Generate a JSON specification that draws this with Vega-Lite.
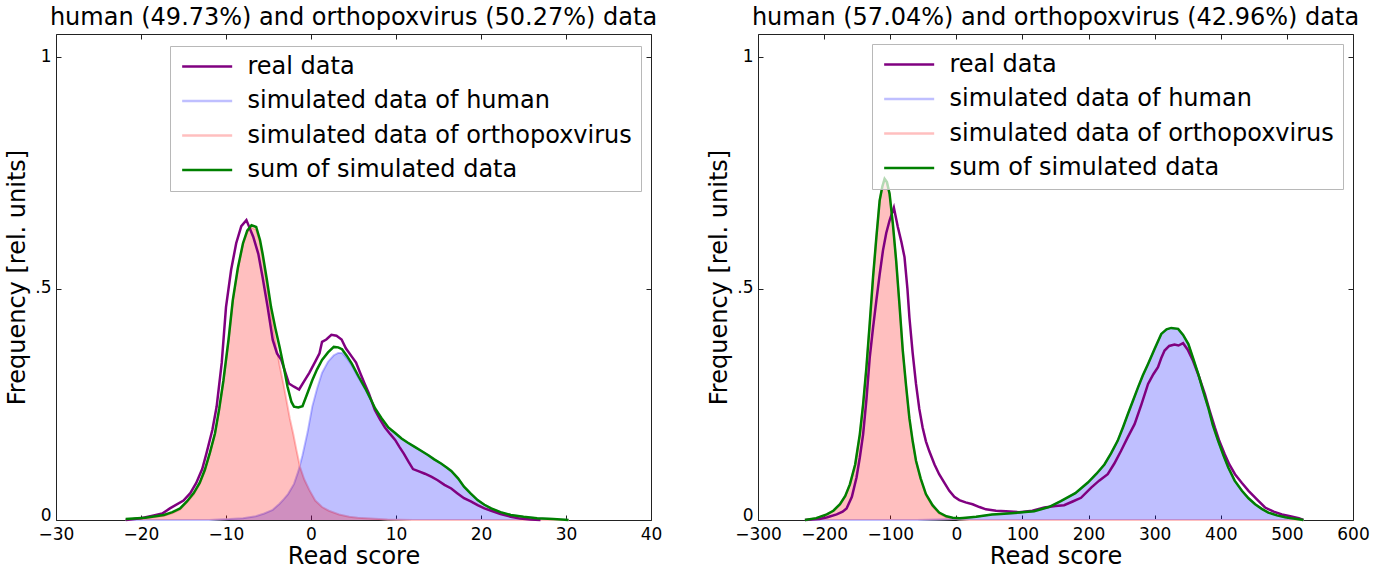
{
"$schema": "https://vega.github.io/schema/vega-lite/v6.json",
"background": "white",
"padding": {"left": 5, "top": 5, "right": 5, "bottom": 0},
"spacing": 44,
"config": {
  "font": "DejaVu Sans",
  "view": {"stroke": "#222222", "strokeWidth": 1},
  "axis": {"labelFont": "DejaVu Sans", "titleFont": "DejaVu Sans", "labelFontSize": 17, "titleFontSize": 24, "titleFontWeight": "normal", "labelColor": "#000000", "titleColor": "#000000", "grid": false, "domain": false, "tickColor": "#222222", "tickSize": -5, "tickWidth": 1, "labelOverlap": false, "labelFlush": false},
  "title": {"font": "DejaVu Sans", "fontSize": 24, "fontWeight": "normal", "color": "#000000", "offset": 0, "baseline": "alphabetic", "frame": "group"},
  "legend": {"orient": "none", "title": null, "labelFont": "DejaVu Sans", "labelFontSize": 24, "labelColor": "#000000", "symbolType": "M-1,0H5", "symbolSize": 278, "symbolStrokeWidth": 2.5, "labelOffset": 45, "padding": 8.5, "rowPadding": 10.5, "strokeColor": "#b8b8b8", "fillColor": "rgba(255,255,255,0.7)", "cornerRadius": 0, "labelLimit": 600}
},
"resolve": {"scale": {"color": "independent"}, "legend": {"color": "independent"}},
"hconcat": [
{
  "title": "human (49.73%) and orthopoxvirus (50.27%) data",
  "width": 595, "height": 486,
  "data": {"values": [
    {"s":"r","x":-21.8,"y":0},{"s":"r","x":-20,"y":0.004},{"s":"r","x":-18.5,"y":0.01},{"s":"r","x":-17.5,"y":0.014},{"s":"r","x":-16.6,"y":0.025},{"s":"r","x":-15,"y":0.042},{"s":"r","x":-14.2,"y":0.058},{"s":"r","x":-13.5,"y":0.08},{"s":"r","x":-12.8,"y":0.11},{"s":"r","x":-12.3,"y":0.144},{"s":"r","x":-11.6,"y":0.195},{"s":"r","x":-11.1,"y":0.245},{"s":"r","x":-10.5,"y":0.34},{"s":"r","x":-10,"y":0.46},{"s":"r","x":-9.4,"y":0.54},{"s":"r","x":-8.8,"y":0.598},{"s":"r","x":-8.2,"y":0.635},{"s":"r","x":-7.6,"y":0.648},{"s":"r","x":-7.2,"y":0.63},{"s":"r","x":-6.8,"y":0.612},{"s":"r","x":-6.2,"y":0.575},{"s":"r","x":-5.7,"y":0.525},{"s":"r","x":-5.1,"y":0.46},{"s":"r","x":-4.5,"y":0.389},{"s":"r","x":-4,"y":0.36},{"s":"r","x":-3.5,"y":0.346},{"s":"r","x":-3,"y":0.318},{"s":"r","x":-2.6,"y":0.295},{"s":"r","x":-2,"y":0.288},{"s":"r","x":-1.4,"y":0.282},{"s":"r","x":-0.8,"y":0.3},{"s":"r","x":-0.2,"y":0.318},{"s":"r","x":0.5,"y":0.342},{"s":"r","x":1,"y":0.36},{"s":"r","x":1.3,"y":0.385},{"s":"r","x":1.8,"y":0.39},{"s":"r","x":2.4,"y":0.4},{"s":"r","x":3,"y":0.398},{"s":"r","x":3.6,"y":0.39},{"s":"r","x":4.1,"y":0.371},{"s":"r","x":4.8,"y":0.353},{"s":"r","x":5.3,"y":0.34},{"s":"r","x":5.8,"y":0.317},{"s":"r","x":6.3,"y":0.295},{"s":"r","x":6.8,"y":0.274},{"s":"r","x":7.5,"y":0.238},{"s":"r","x":8.1,"y":0.218},{"s":"r","x":8.7,"y":0.2},{"s":"r","x":9.3,"y":0.186},{"s":"r","x":9.9,"y":0.173},{"s":"r","x":10.4,"y":0.158},{"s":"r","x":10.9,"y":0.144},{"s":"r","x":11.5,"y":0.125},{"s":"r","x":12,"y":0.11},{"s":"r","x":12.7,"y":0.105},{"s":"r","x":13.4,"y":0.1},{"s":"r","x":14.2,"y":0.093},{"s":"r","x":14.9,"y":0.086},{"s":"r","x":15.7,"y":0.076},{"s":"r","x":16.5,"y":0.068},{"s":"r","x":17.2,"y":0.058},{"s":"r","x":18,"y":0.047},{"s":"r","x":18.8,"y":0.04},{"s":"r","x":19.6,"y":0.032},{"s":"r","x":20.4,"y":0.025},{"s":"r","x":21.2,"y":0.02},{"s":"r","x":22.3,"y":0.013},{"s":"r","x":23.5,"y":0.007},{"s":"r","x":24.6,"y":0.003},{"s":"r","x":25.8,"y":0.001},{"s":"r","x":27,"y":0},
    {"s":"t","x":-21.8,"y":0.002},{"s":"t","x":-19.5,"y":0.005},{"s":"t","x":-17.3,"y":0.011},{"s":"t","x":-16.3,"y":0.017},{"s":"t","x":-15.4,"y":0.025},{"s":"t","x":-14.6,"y":0.04},{"s":"t","x":-13.8,"y":0.058},{"s":"t","x":-13.1,"y":0.08},{"s":"t","x":-12.5,"y":0.108},{"s":"t","x":-11.9,"y":0.145},{"s":"t","x":-11.3,"y":0.187},{"s":"t","x":-10.8,"y":0.24},{"s":"t","x":-10.3,"y":0.302},{"s":"t","x":-9.7,"y":0.39},{"s":"t","x":-9.2,"y":0.475},{"s":"t","x":-8.6,"y":0.545},{"s":"t","x":-8,"y":0.598},{"s":"t","x":-7.5,"y":0.625},{"s":"t","x":-7,"y":0.637},{"s":"t","x":-6.45,"y":0.633},{"s":"t","x":-6,"y":0.605},{"s":"t","x":-5.7,"y":0.576},{"s":"t","x":-5.2,"y":0.52},{"s":"t","x":-4.7,"y":0.46},{"s":"t","x":-4.2,"y":0.415},{"s":"t","x":-3.7,"y":0.374},{"s":"t","x":-3.2,"y":0.33},{"s":"t","x":-2.76,"y":0.288},{"s":"t","x":-2.3,"y":0.255},{"s":"t","x":-2,"y":0.245},{"s":"t","x":-1.5,"y":0.243},{"s":"t","x":-1,"y":0.246},{"s":"t","x":-0.4,"y":0.275},{"s":"t","x":0.15,"y":0.302},{"s":"t","x":0.7,"y":0.325},{"s":"t","x":1.3,"y":0.346},{"s":"t","x":2,"y":0.362},{"s":"t","x":2.68,"y":0.374},{"s":"t","x":3.2,"y":0.373},{"s":"t","x":3.65,"y":0.369},{"s":"t","x":4.2,"y":0.355},{"s":"t","x":4.8,"y":0.338},{"s":"t","x":5.6,"y":0.31},{"s":"t","x":6.4,"y":0.284},{"s":"t","x":7,"y":0.262},{"s":"t","x":7.55,"y":0.241},{"s":"t","x":8.3,"y":0.22},{"s":"t","x":9.1,"y":0.2},{"s":"t","x":9.9,"y":0.188},{"s":"t","x":10.65,"y":0.176},{"s":"t","x":11.4,"y":0.167},{"s":"t","x":12.2,"y":0.158},{"s":"t","x":13,"y":0.149},{"s":"t","x":13.8,"y":0.14},{"s":"t","x":14.5,"y":0.131},{"s":"t","x":15.3,"y":0.122},{"s":"t","x":16,"y":0.113},{"s":"t","x":16.5,"y":0.106},{"s":"t","x":17.3,"y":0.09},{"s":"t","x":18,"y":0.072},{"s":"t","x":18.8,"y":0.057},{"s":"t","x":19.6,"y":0.043},{"s":"t","x":20.4,"y":0.033},{"s":"t","x":21.2,"y":0.025},{"s":"t","x":22.3,"y":0.017},{"s":"t","x":23.5,"y":0.011},{"s":"t","x":25,"y":0.007},{"s":"t","x":26.6,"y":0.004},{"s":"t","x":28.5,"y":0.002},{"s":"t","x":30.3,"y":0},
    {"s":"h","x":-21.8,"y":0},{"s":"h","x":-12,"y":0},{"s":"h","x":-9.6,"y":0.002},{"s":"h","x":-8,"y":0.004},{"s":"h","x":-6.5,"y":0.008},{"s":"h","x":-5.5,"y":0.014},{"s":"h","x":-4.5,"y":0.022},{"s":"h","x":-3.7,"y":0.035},{"s":"h","x":-3.2,"y":0.045},{"s":"h","x":-2.7,"y":0.056},{"s":"h","x":-2,"y":0.078},{"s":"h","x":-1.5,"y":0.105},{"s":"h","x":-1,"y":0.14},{"s":"h","x":-0.4,"y":0.19},{"s":"h","x":0.15,"y":0.245},{"s":"h","x":0.7,"y":0.283},{"s":"h","x":1.3,"y":0.318},{"s":"h","x":2,"y":0.342},{"s":"h","x":2.68,"y":0.356},{"s":"h","x":3.2,"y":0.361},{"s":"h","x":3.65,"y":0.361},{"s":"h","x":4.2,"y":0.35},{"s":"h","x":4.8,"y":0.334},{"s":"h","x":5.6,"y":0.307},{"s":"h","x":6.4,"y":0.282},{"s":"h","x":7,"y":0.26},{"s":"h","x":7.55,"y":0.239},{"s":"h","x":8.3,"y":0.219},{"s":"h","x":9.1,"y":0.199},{"s":"h","x":9.9,"y":0.187},{"s":"h","x":10.65,"y":0.176},{"s":"h","x":11.4,"y":0.167},{"s":"h","x":12.2,"y":0.158},{"s":"h","x":13,"y":0.149},{"s":"h","x":13.8,"y":0.14},{"s":"h","x":14.5,"y":0.131},{"s":"h","x":15.3,"y":0.122},{"s":"h","x":16,"y":0.113},{"s":"h","x":16.5,"y":0.106},{"s":"h","x":17.3,"y":0.09},{"s":"h","x":18,"y":0.072},{"s":"h","x":18.8,"y":0.057},{"s":"h","x":19.6,"y":0.043},{"s":"h","x":20.4,"y":0.033},{"s":"h","x":21.2,"y":0.025},{"s":"h","x":22.3,"y":0.017},{"s":"h","x":23.5,"y":0.011},{"s":"h","x":25,"y":0.007},{"s":"h","x":26.6,"y":0.004},{"s":"h","x":28.5,"y":0.002},{"s":"h","x":30.3,"y":0},
    {"s":"o","x":-21.8,"y":0.001},{"s":"o","x":-19.5,"y":0.004},{"s":"o","x":-17.3,"y":0.009},{"s":"o","x":-16.3,"y":0.015},{"s":"o","x":-15.4,"y":0.023},{"s":"o","x":-14.6,"y":0.038},{"s":"o","x":-13.8,"y":0.055},{"s":"o","x":-13.1,"y":0.078},{"s":"o","x":-12.5,"y":0.105},{"s":"o","x":-11.9,"y":0.143},{"s":"o","x":-11.3,"y":0.185},{"s":"o","x":-10.8,"y":0.238},{"s":"o","x":-10.3,"y":0.3},{"s":"o","x":-9.7,"y":0.388},{"s":"o","x":-9.2,"y":0.473},{"s":"o","x":-8.6,"y":0.543},{"s":"o","x":-8,"y":0.596},{"s":"o","x":-7.5,"y":0.622},{"s":"o","x":-7,"y":0.632},{"s":"o","x":-6.45,"y":0.627},{"s":"o","x":-6,"y":0.6},{"s":"o","x":-5.7,"y":0.57},{"s":"o","x":-5.2,"y":0.51},{"s":"o","x":-4.7,"y":0.445},{"s":"o","x":-4.2,"y":0.39},{"s":"o","x":-3.7,"y":0.335},{"s":"o","x":-3.2,"y":0.29},{"s":"o","x":-2.9,"y":0.26},{"s":"o","x":-2.5,"y":0.22},{"s":"o","x":-2.1,"y":0.187},{"s":"o","x":-1.7,"y":0.15},{"s":"o","x":-1.3,"y":0.115},{"s":"o","x":-0.8,"y":0.088},{"s":"o","x":-0.2,"y":0.065},{"s":"o","x":0.5,"y":0.042},{"s":"o","x":1.3,"y":0.028},{"s":"o","x":2.1,"y":0.02},{"s":"o","x":3.3,"y":0.012},{"s":"o","x":4.5,"y":0.007},{"s":"o","x":5.5,"y":0.005},{"s":"o","x":7,"y":0.003},{"s":"o","x":9,"y":0.001},{"s":"o","x":12,"y":0},{"s":"o","x":30.3,"y":0}
  ]},
  "resolve": {"axis": {"x": "independent", "y": "independent"}},
  "layer": [
    {"transform": [{"filter": "datum.s=='h' || datum.s=='o'"}],
     "mark": {"type": "line", "strokeWidth": 2},
     "encoding": {
       "x": {"field": "x", "type": "quantitative", "scale": {"domain": [-30, 40], "nice": false, "zero": false}, "axis": {"orient": "bottom", "values": [-30,-20,-10,0,10,20,30,40], "title": "Read score", "labelPadding": 11, "titlePadding": 2}},
       "y": {"field": "y", "type": "quantitative", "scale": {"domain": [0, 1.05], "nice": false}, "axis": {"orient": "left", "values": [0, 0.5, 1], "labelExpr": "datum.value==0.5?'.5':datum.value==1?'1':'0'", "title": "Frequency [rel. units]", "labelPadding": 10, "titlePadding": 5, "labelOffset": {"condition": {"test": "datum.value==0", "value": -5}, "value": -1}}},
       "color": {"field": "s", "type": "nominal", "scale": {"domain": ["r","h","o","t"], "range": ["#800080","#bfbfff","#ffbfbf","#008000"]}, "legend": {"legendX": 114, "legendY": 12, "labelExpr": "datum.label=='r'?'real data':datum.label=='h'?'simulated data of human':datum.label=='o'?'simulated data of orthopoxvirus':'sum of simulated data'"}}
     }},
    {"transform": [{"filter": "datum.s=='h'"}],
     "mark": {"type": "area", "color": "#0000ff", "opacity": 0.25},
     "encoding": {"x": {"field": "x", "type": "quantitative", "axis": null}, "y": {"field": "y", "type": "quantitative", "axis": null}}},
    {"transform": [{"filter": "datum.s=='o'"}],
     "mark": {"type": "area", "color": "#ff0000", "opacity": 0.25},
     "encoding": {"x": {"field": "x", "type": "quantitative", "axis": null}, "y": {"field": "y", "type": "quantitative", "axis": null}}},
    {"transform": [{"filter": "datum.s=='r' || datum.s=='t'"}],
     "mark": {"type": "line", "strokeWidth": 2.5},
     "encoding": {
       "x": {"field": "x", "type": "quantitative", "axis": {"orient": "top", "values": [-30,-20,-10,0,10,20,30,40], "labels": false, "title": null}},
       "y": {"field": "y", "type": "quantitative", "axis": {"orient": "right", "values": [0, 0.5, 1], "labels": false, "title": null}},
       "color": {"field": "s", "type": "nominal"}
     }}
  ]
},
{
  "title": "human (57.04%) and orthopoxvirus (42.96%) data",
  "width": 595, "height": 486,
  "data": {"values": [
    {"s":"r","x":-229,"y":0},{"s":"r","x":-207,"y":0.002},{"s":"r","x":-195,"y":0.006},{"s":"r","x":-181,"y":0.012},{"s":"r","x":-172,"y":0.018},{"s":"r","x":-166,"y":0.025},{"s":"r","x":-158,"y":0.05},{"s":"r","x":-151,"y":0.092},{"s":"r","x":-146,"y":0.135},{"s":"r","x":-141,"y":0.185},{"s":"r","x":-136,"y":0.26},{"s":"r","x":-131,"y":0.351},{"s":"r","x":-126,"y":0.415},{"s":"r","x":-121,"y":0.474},{"s":"r","x":-116,"y":0.53},{"s":"r","x":-111,"y":0.582},{"s":"r","x":-106,"y":0.62},{"s":"r","x":-101,"y":0.647},{"s":"r","x":-94.5,"y":0.675},{"s":"r","x":-88.5,"y":0.633},{"s":"r","x":-83,"y":0.6},{"s":"r","x":-78.4,"y":0.568},{"s":"r","x":-74,"y":0.5},{"s":"r","x":-71,"y":0.438},{"s":"r","x":-66,"y":0.36},{"s":"r","x":-61,"y":0.294},{"s":"r","x":-56,"y":0.24},{"s":"r","x":-51,"y":0.2},{"s":"r","x":-46,"y":0.17},{"s":"r","x":-41,"y":0.149},{"s":"r","x":-33,"y":0.12},{"s":"r","x":-26,"y":0.099},{"s":"r","x":-18,"y":0.08},{"s":"r","x":-10.6,"y":0.063},{"s":"r","x":-3,"y":0.05},{"s":"r","x":4.5,"y":0.043},{"s":"r","x":14,"y":0.038},{"s":"r","x":24.6,"y":0.034},{"s":"r","x":35,"y":0.028},{"s":"r","x":44.8,"y":0.023},{"s":"r","x":60,"y":0.02},{"s":"r","x":75,"y":0.019},{"s":"r","x":95,"y":0.017},{"s":"r","x":115,"y":0.02},{"s":"r","x":133,"y":0.027},{"s":"r","x":150,"y":0.03},{"s":"r","x":163,"y":0.032},{"s":"r","x":176,"y":0.04},{"s":"r","x":188.6,"y":0.048},{"s":"r","x":204,"y":0.07},{"s":"r","x":216,"y":0.085},{"s":"r","x":229,"y":0.099},{"s":"r","x":239,"y":0.122},{"s":"r","x":249,"y":0.149},{"s":"r","x":259,"y":0.178},{"s":"r","x":269.6,"y":0.207},{"s":"r","x":280,"y":0.25},{"s":"r","x":290,"y":0.294},{"s":"r","x":298,"y":0.315},{"s":"r","x":305,"y":0.33},{"s":"r","x":310,"y":0.35},{"s":"r","x":315,"y":0.366},{"s":"r","x":322,"y":0.376},{"s":"r","x":330,"y":0.379},{"s":"r","x":336,"y":0.377},{"s":"r","x":343,"y":0.382},{"s":"r","x":350,"y":0.368},{"s":"r","x":358,"y":0.344},{"s":"r","x":367,"y":0.31},{"s":"r","x":376,"y":0.272},{"s":"r","x":383,"y":0.237},{"s":"r","x":391,"y":0.2},{"s":"r","x":398,"y":0.17},{"s":"r","x":406,"y":0.142},{"s":"r","x":413,"y":0.12},{"s":"r","x":421.5,"y":0.099},{"s":"r","x":432,"y":0.08},{"s":"r","x":442,"y":0.063},{"s":"r","x":455,"y":0.044},{"s":"r","x":467,"y":0.027},{"s":"r","x":480,"y":0.018},{"s":"r","x":492.5,"y":0.012},{"s":"r","x":505,"y":0.008},{"s":"r","x":518,"y":0.004},{"s":"r","x":525,"y":0},
    {"s":"t","x":-229,"y":0},{"s":"t","x":-212,"y":0.004},{"s":"t","x":-196,"y":0.012},{"s":"t","x":-186,"y":0.02},{"s":"t","x":-176,"y":0.034},{"s":"t","x":-168,"y":0.052},{"s":"t","x":-161,"y":0.077},{"s":"t","x":-153,"y":0.12},{"s":"t","x":-146,"y":0.185},{"s":"t","x":-141,"y":0.25},{"s":"t","x":-136,"y":0.33},{"s":"t","x":-131,"y":0.425},{"s":"t","x":-126,"y":0.524},{"s":"t","x":-121,"y":0.61},{"s":"t","x":-116,"y":0.69},{"s":"t","x":-112,"y":0.72},{"s":"t","x":-108.5,"y":0.737},{"s":"t","x":-105,"y":0.73},{"s":"t","x":-101,"y":0.705},{"s":"t","x":-96,"y":0.64},{"s":"t","x":-91,"y":0.56},{"s":"t","x":-86,"y":0.465},{"s":"t","x":-81,"y":0.366},{"s":"t","x":-76,"y":0.29},{"s":"t","x":-71,"y":0.22},{"s":"t","x":-66,"y":0.17},{"s":"t","x":-61,"y":0.128},{"s":"t","x":-54,"y":0.09},{"s":"t","x":-46,"y":0.056},{"s":"t","x":-36,"y":0.032},{"s":"t","x":-26,"y":0.016},{"s":"t","x":-15,"y":0.008},{"s":"t","x":-5.5,"y":0.005},{"s":"t","x":5,"y":0.004},{"s":"t","x":14.6,"y":0.005},{"s":"t","x":30,"y":0.007},{"s":"t","x":54,"y":0.012},{"s":"t","x":67,"y":0.013},{"s":"t","x":95,"y":0.016},{"s":"t","x":117.6,"y":0.019},{"s":"t","x":140,"y":0.028},{"s":"t","x":158,"y":0.041},{"s":"t","x":180,"y":0.058},{"s":"t","x":199,"y":0.081},{"s":"t","x":212,"y":0.1},{"s":"t","x":224,"y":0.12},{"s":"t","x":234,"y":0.144},{"s":"t","x":244,"y":0.171},{"s":"t","x":252,"y":0.2},{"s":"t","x":259.5,"y":0.229},{"s":"t","x":267,"y":0.257},{"s":"t","x":274.7,"y":0.286},{"s":"t","x":282,"y":0.312},{"s":"t","x":290,"y":0.337},{"s":"t","x":300,"y":0.37},{"s":"t","x":310,"y":0.402},{"s":"t","x":318,"y":0.412},{"s":"t","x":325,"y":0.415},{"s":"t","x":335.5,"y":0.413},{"s":"t","x":343,"y":0.4},{"s":"t","x":351,"y":0.38},{"s":"t","x":358,"y":0.35},{"s":"t","x":366,"y":0.315},{"s":"t","x":373,"y":0.28},{"s":"t","x":381,"y":0.243},{"s":"t","x":388,"y":0.205},{"s":"t","x":396,"y":0.171},{"s":"t","x":404,"y":0.14},{"s":"t","x":411.5,"y":0.113},{"s":"t","x":421,"y":0.085},{"s":"t","x":432,"y":0.063},{"s":"t","x":442,"y":0.047},{"s":"t","x":452,"y":0.034},{"s":"t","x":462,"y":0.024},{"s":"t","x":472,"y":0.016},{"s":"t","x":485,"y":0.01},{"s":"t","x":497.5,"y":0.006},{"s":"t","x":510,"y":0.003},{"s":"t","x":525,"y":0},
    {"s":"o","x":-229,"y":0},{"s":"o","x":-212,"y":0.004},{"s":"o","x":-196,"y":0.012},{"s":"o","x":-186,"y":0.02},{"s":"o","x":-176,"y":0.034},{"s":"o","x":-168,"y":0.052},{"s":"o","x":-161,"y":0.077},{"s":"o","x":-153,"y":0.12},{"s":"o","x":-146,"y":0.185},{"s":"o","x":-141,"y":0.25},{"s":"o","x":-136,"y":0.33},{"s":"o","x":-131,"y":0.425},{"s":"o","x":-126,"y":0.524},{"s":"o","x":-121,"y":0.61},{"s":"o","x":-116,"y":0.69},{"s":"o","x":-112,"y":0.72},{"s":"o","x":-108.5,"y":0.737},{"s":"o","x":-105,"y":0.73},{"s":"o","x":-101,"y":0.705},{"s":"o","x":-96,"y":0.64},{"s":"o","x":-91,"y":0.56},{"s":"o","x":-86,"y":0.465},{"s":"o","x":-81,"y":0.366},{"s":"o","x":-76,"y":0.29},{"s":"o","x":-71,"y":0.22},{"s":"o","x":-66,"y":0.17},{"s":"o","x":-61,"y":0.127},{"s":"o","x":-54,"y":0.089},{"s":"o","x":-46,"y":0.054},{"s":"o","x":-36,"y":0.03},{"s":"o","x":-26,"y":0.014},{"s":"o","x":-15,"y":0.006},{"s":"o","x":-5.5,"y":0.003},{"s":"o","x":5,"y":0.001},{"s":"o","x":20,"y":0},{"s":"o","x":525,"y":0},
    {"s":"h","x":-229,"y":0},{"s":"h","x":-60,"y":0},{"s":"h","x":-30,"y":0.001},{"s":"h","x":-5,"y":0.002},{"s":"h","x":5,"y":0.003},{"s":"h","x":14.6,"y":0.005},{"s":"h","x":30,"y":0.007},{"s":"h","x":54,"y":0.012},{"s":"h","x":67,"y":0.013},{"s":"h","x":95,"y":0.016},{"s":"h","x":117.6,"y":0.019},{"s":"h","x":140,"y":0.028},{"s":"h","x":158,"y":0.041},{"s":"h","x":180,"y":0.058},{"s":"h","x":199,"y":0.081},{"s":"h","x":212,"y":0.1},{"s":"h","x":224,"y":0.12},{"s":"h","x":234,"y":0.144},{"s":"h","x":244,"y":0.171},{"s":"h","x":252,"y":0.2},{"s":"h","x":259.5,"y":0.229},{"s":"h","x":267,"y":0.257},{"s":"h","x":274.7,"y":0.286},{"s":"h","x":282,"y":0.312},{"s":"h","x":290,"y":0.337},{"s":"h","x":300,"y":0.37},{"s":"h","x":310,"y":0.402},{"s":"h","x":318,"y":0.412},{"s":"h","x":325,"y":0.415},{"s":"h","x":335.5,"y":0.413},{"s":"h","x":343,"y":0.4},{"s":"h","x":351,"y":0.38},{"s":"h","x":358,"y":0.35},{"s":"h","x":366,"y":0.315},{"s":"h","x":373,"y":0.28},{"s":"h","x":381,"y":0.243},{"s":"h","x":388,"y":0.205},{"s":"h","x":396,"y":0.171},{"s":"h","x":404,"y":0.14},{"s":"h","x":411.5,"y":0.113},{"s":"h","x":421,"y":0.085},{"s":"h","x":432,"y":0.063},{"s":"h","x":442,"y":0.047},{"s":"h","x":452,"y":0.034},{"s":"h","x":462,"y":0.024},{"s":"h","x":472,"y":0.016},{"s":"h","x":485,"y":0.01},{"s":"h","x":497.5,"y":0.006},{"s":"h","x":510,"y":0.003},{"s":"h","x":525,"y":0}
  ]},
  "resolve": {"axis": {"x": "independent", "y": "independent"}},
  "layer": [
    {"transform": [{"filter": "datum.s=='h' || datum.s=='o'"}],
     "mark": {"type": "line", "strokeWidth": 2},
     "encoding": {
       "x": {"field": "x", "type": "quantitative", "scale": {"domain": [-300, 600], "nice": false, "zero": false}, "axis": {"orient": "bottom", "values": [-300,-200,-100,0,100,200,300,400,500,600], "title": "Read score", "labelPadding": 11, "titlePadding": 2}},
       "y": {"field": "y", "type": "quantitative", "scale": {"domain": [0, 1.05], "nice": false}, "axis": {"orient": "left", "values": [0, 0.5, 1], "labelExpr": "datum.value==0.5?'.5':datum.value==1?'1':'0'", "title": "Frequency [rel. units]", "labelPadding": 10, "titlePadding": 5, "labelOffset": {"condition": {"test": "datum.value==0", "value": -5}, "value": -1}}},
       "color": {"field": "s", "type": "nominal", "scale": {"domain": ["r","h","o","t"], "range": ["#800080","#bfbfff","#ffbfbf","#008000"]}, "legend": {"legendX": 114, "legendY": 10, "labelExpr": "datum.label=='r'?'real data':datum.label=='h'?'simulated data of human':datum.label=='o'?'simulated data of orthopoxvirus':'sum of simulated data'"}}
     }},
    {"transform": [{"filter": "datum.s=='h'"}],
     "mark": {"type": "area", "color": "#0000ff", "opacity": 0.25},
     "encoding": {"x": {"field": "x", "type": "quantitative", "axis": null}, "y": {"field": "y", "type": "quantitative", "axis": null}}},
    {"transform": [{"filter": "datum.s=='o'"}],
     "mark": {"type": "area", "color": "#ff0000", "opacity": 0.25},
     "encoding": {"x": {"field": "x", "type": "quantitative", "axis": null}, "y": {"field": "y", "type": "quantitative", "axis": null}}},
    {"transform": [{"filter": "datum.s=='r' || datum.s=='t'"}],
     "mark": {"type": "line", "strokeWidth": 2.5},
     "encoding": {
       "x": {"field": "x", "type": "quantitative", "axis": {"orient": "top", "values": [-300,-200,-100,0,100,200,300,400,500,600], "labels": false, "title": null}},
       "y": {"field": "y", "type": "quantitative", "axis": {"orient": "right", "values": [0, 0.5, 1], "labels": false, "title": null}},
       "color": {"field": "s", "type": "nominal"}
     }}
  ]
}
]
}
